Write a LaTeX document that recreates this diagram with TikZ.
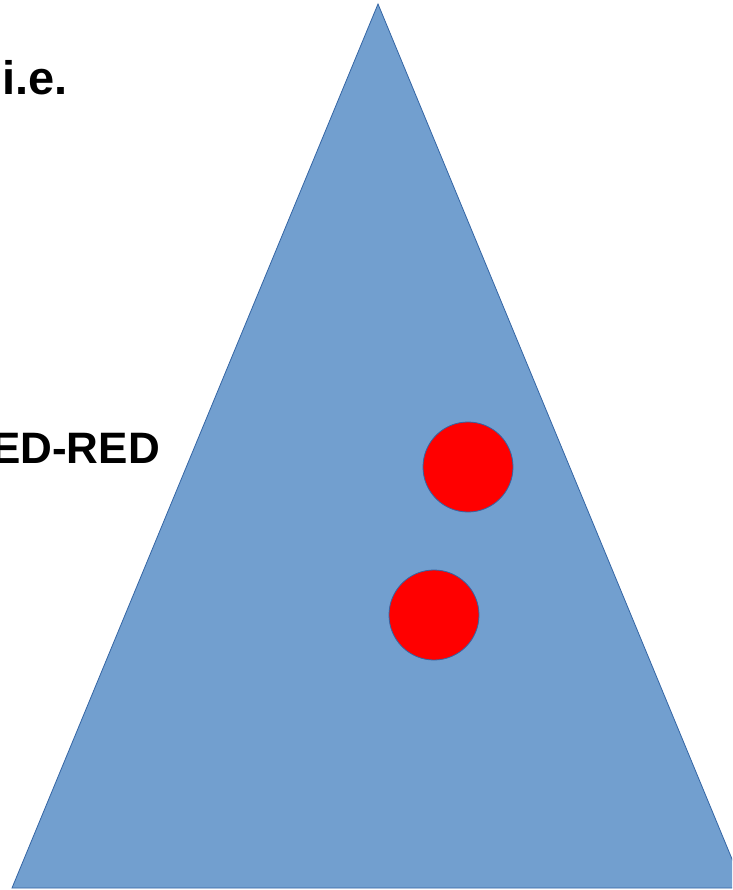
\documentclass[tikz,border=0pt]{standalone}
\usepackage{fontspec}
\setmainfont{Liberation Sans}
\usetikzlibrary{positioning}
\definecolor{skyfill}{HTML}{729FCF}
\definecolor{skyline}{HTML}{3465A4}
\definecolor{dotred}{HTML}{FF0000}
\tikzset{
  tri/.style={fill=skyfill, draw=skyline, line width=.8pt, line join=miter},
  dot/.style={circle, fill=dotred, draw=skyline, line width=.8pt, minimum size=90pt, inner sep=0pt},
  lbl/.style={font=\fontsize{44}{50}\selectfont\bfseries, inner sep=0pt},
}
\begin{document}
\begin{tikzpicture}[x=1pt, y=-1pt]
        \useasboundingbox (0,0) rectangle (732,890);
        \clip (0,0) rectangle (732,890);
        \draw[tri] (378,4) coordinate (apex) -- (12,888) coordinate (bl) -- (744,888) coordinate (br) -- cycle;
        \node[dot] (upper) at (468,467) {};
        \node[dot] (lower) at (434,615) {};
        \node[lbl, font=\fontsize{47}{54}\selectfont\bfseries, anchor=base west] (ie) at (2,95) {i.e.};
        \node[lbl, anchor=base east] (redred) at (160,463) {ED-RED};
      \end{tikzpicture}
\end{document}
